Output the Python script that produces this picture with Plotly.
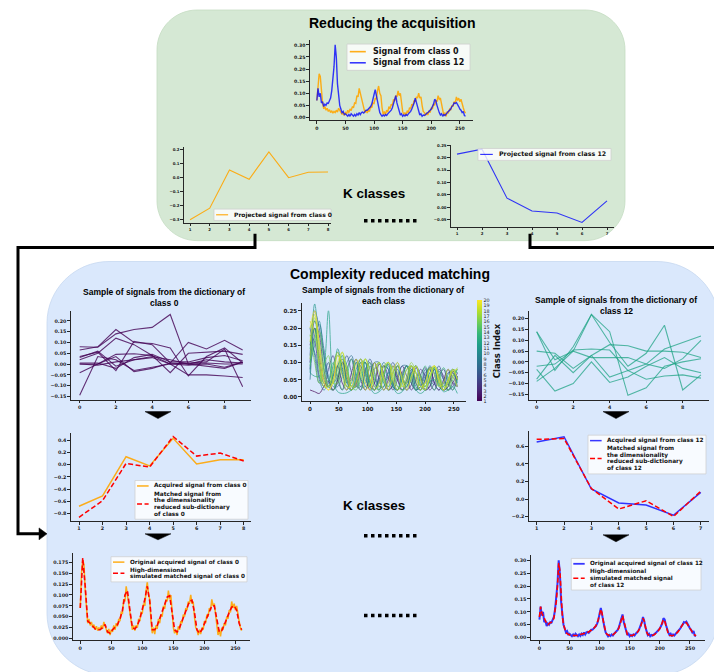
import plotly.graph_objects as go
from plotly.colors import sample_colorscale

W, H = 722, 672
def X(p): return p / W
def Y(p): return 1 - p / H

# ------------------------------------------------------------------ data
t_fine = list(range(0, 261, 2))
t_coarse = list(range(0, 261, 4))
t_dict_all = list(range(0, 257, 8))
idx_proj0 = [1, 2, 3, 4, 5, 6, 7, 8]
idx_proj12 = [1, 2, 3, 4, 5, 6, 7]
idx_dict = list(range(10))
class_index = list(range(1, 21))

signal_class0 = [
    0.07, 0.15, 0.18, 0.17, 0.11, 0.06, 0.035, 0.045, 0.03, 0.038,
    0.025, 0.032, 0.02, 0.028, 0.018, 0.025, 0.02, 0.03, 0.022, 0.038,
    0.03, 0.02, 0.012, 0.022, 0.008, 0.02, 0.015, 0.03, 0.02, 0.035,
    0.028, 0.045, 0.04, 0.06, 0.058, 0.09, 0.085, 0.12, 0.1, 0.085,
    0.06, 0.04, 0.02, 0.03, 0.018, 0.03, 0.025, 0.045, 0.04, 0.06,
    0.058, 0.08, 0.075, 0.11, 0.13, 0.1, 0.09, 0.04, 0.012, 0.025,
    0.01, 0.03, 0.022, 0.045, 0.035, 0.055, 0.05, 0.075, 0.068, 0.09,
    0.085, 0.11, 0.09, 0.1, 0.05, 0.025, 0.012, 0.02, 0.008, 0.028,
    0.02, 0.04, 0.035, 0.055, 0.05, 0.07, 0.065, 0.085, 0.08, 0.1,
    0.08, 0.085, 0.05, 0.025, 0.02, 0.008, 0.02, 0.01, 0.025, 0.02,
    0.04, 0.035, 0.055, 0.05, 0.07, 0.065, 0.09, 0.075, 0.08, 0.05,
    0.035, 0.008, 0.02, 0.005, 0.025, 0.02, 0.035, 0.03, 0.05, 0.045,
    0.065, 0.06, 0.085, 0.07, 0.08, 0.065, 0.075, 0.05, 0.04, 0.025,
    0.018]

matched_hd_class0 = [
    0.07, 0.185, 0.12, 0.04, 0.035, 0.028, 0.022, 0.02, 0.02, 0.025,
    0.032, 0.015, 0.012, 0.02, 0.025, 0.032, 0.045, 0.065, 0.1, 0.11,
    0.065, 0.025, 0.022, 0.03, 0.045, 0.065, 0.09, 0.12, 0.085, 0.02,
    0.02, 0.03, 0.045, 0.06, 0.078, 0.095, 0.098, 0.06, 0.02, 0.015,
    0.025, 0.04, 0.055, 0.07, 0.085, 0.088, 0.06, 0.02, 0.012, 0.02,
    0.033, 0.048, 0.062, 0.075, 0.075, 0.04, 0.015, 0.018, 0.03, 0.045,
    0.06, 0.072, 0.075, 0.065, 0.035, 0.02]

signal_class12 = [
    0.07, 0.12, 0.085, 0.1, 0.06, 0.065, 0.045, 0.055, 0.05, 0.06,
    0.058, 0.07, 0.08, 0.11, 0.15, 0.21, 0.3, 0.25, 0.14, 0.08,
    0.05, 0.035, 0.02, 0.025, 0.012, 0.015, 0.01, 0.005, 0.012, 0.005,
    0.015, 0.008, 0.005, 0.012, 0.006, 0.015, 0.01, 0.02, 0.012, 0.02,
    0.022, 0.018, 0.025, 0.03, 0.03, 0.035, 0.04, 0.045, 0.055, 0.07,
    0.095, 0.115, 0.09, 0.06, 0.04, 0.02, 0.012, 0.005, 0.01, 0.006,
    0.012, 0.008, 0.015, 0.02, 0.025, 0.03, 0.04, 0.055, 0.07, 0.09,
    0.06, 0.04, 0.025, 0.01, 0.015, 0.005, 0.01, 0.006, 0.012, 0.008,
    0.015, 0.02, 0.025, 0.035, 0.045, 0.06, 0.08, 0.065, 0.04, 0.025,
    0.01, 0.015, 0.005, 0.01, 0.008, 0.012, 0.015, 0.02, 0.025, 0.03,
    0.035, 0.045, 0.055, 0.075, 0.07, 0.05, 0.03, 0.02, 0.01, 0.015,
    0.005, 0.012, 0.008, 0.015, 0.02, 0.025, 0.03, 0.035, 0.045, 0.05,
    0.06, 0.058, 0.062, 0.05, 0.045, 0.035, 0.03, 0.02, 0.025, 0.008,
    0.005]

matched_hd_class12 = [
    0.08, 0.12, 0.095, 0.085, 0.07, 0.06, 0.055, 0.05, 0.055, 0.058,
    0.06, 0.065, 0.075, 0.1, 0.14, 0.2, 0.29, 0.26, 0.15, 0.085,
    0.05, 0.03, 0.02, 0.015, 0.012, 0.01, 0.008, 0.008, 0.007, 0.007,
    0.008, 0.008, 0.009, 0.01, 0.01, 0.012, 0.013, 0.015, 0.016, 0.018,
    0.02, 0.022, 0.025, 0.028, 0.031, 0.035, 0.04, 0.047, 0.056, 0.07,
    0.09, 0.11, 0.095, 0.065, 0.04, 0.022, 0.013, 0.009, 0.008, 0.008,
    0.009, 0.011, 0.014, 0.018, 0.023, 0.029, 0.037, 0.05, 0.068, 0.085,
    0.065, 0.04, 0.022, 0.012, 0.008, 0.007, 0.007, 0.008, 0.01, 0.012,
    0.015, 0.019, 0.024, 0.031, 0.042, 0.058, 0.075, 0.065, 0.042, 0.022,
    0.012, 0.008, 0.007, 0.007, 0.008, 0.01, 0.013, 0.017, 0.022, 0.028,
    0.035, 0.045, 0.058, 0.07, 0.065, 0.045, 0.027, 0.015, 0.009, 0.007,
    0.007, 0.008, 0.01, 0.013, 0.017, 0.022, 0.028, 0.035, 0.043, 0.052,
    0.058, 0.06, 0.058, 0.05, 0.042, 0.034, 0.027, 0.02, 0.014, 0.01,
    0.007]

projected_class0 = [-0.30, -0.218, 0.052, -0.013, 0.181, -0.002, 0.036, 0.038]
projected_class12 = [0.214, 0.234, 0.037, -0.015, -0.023, -0.061, 0.026]

acquired_red_class0 = [-0.68, -0.51, 0.13, -0.02, 0.43, 0.01, 0.08, 0.08]
matched_red_class0 = [-0.86, -0.59, 0.02, -0.04, 0.46, 0.14, 0.19, 0.06]
acquired_red_class12 = [0.65, 0.71, 0.114, -0.045, -0.068, -0.185, 0.076]
matched_red_class12 = [0.68, 0.69, 0.12, -0.114, -0.02, -0.2, 0.09]

dict_class0 = [
    [-0.145, 0.035, 0.02, -0.03, -0.015, 0.0, 0.005, 0.01, 0.07, -0.105],
    [0.08, 0.078, 0.14, 0.16, 0.17, 0.23, 0.0, -0.01, -0.02, 0.01],
    [0.065, 0.08, 0.16, 0.10, 0.095, 0.075, -0.055, 0.035, 0.075, 0.005],
    [0.035, 0.055, -0.03, 0.105, 0.09, 0.005, 0.10, 0.07, 0.11, 0.065],
    [0.02, 0.05, 0.12, 0.09, 0.04, -0.04, 0.05, 0.055, 0.06, 0.045],
    [-0.04, 0.0, 0.045, 0.048, 0.04, 0.0, -0.05, -0.05, -0.055, -0.062],
    [0.0, 0.0, 0.035, -0.035, -0.02, 0.005, 0.0, 0.005, 0.0, 0.0],
    [0.005, 0.005, -0.02, 0.03, 0.045, 0.01, 0.01, 0.03, 0.04, 0.015],
    [0.0, -0.005, 0.01, 0.02, 0.03, 0.0, -0.005, 0.0, -0.015, 0.01],
    [0.03, 0.06, -0.01, 0.02, 0.035, 0.02, 0.0, 0.02, 0.01, 0.005],
]

dict_class12 = [
    [0.14, 0.01, 0.05, 0.22, 0.14, -0.155, -0.12, -0.02, 0.0, 0.015],
    [0.14, -0.04, 0.07, 0.22, 0.09, -0.02, 0.04, 0.17, -0.13, -0.06],
    [0.05, 0.04, -0.03, 0.03, 0.08, 0.075, 0.05, 0.05, 0.045, 0.02],
    [-0.02, -0.01, 0.055, 0.06, 0.055, -0.04, -0.01, 0.06, 0.09, 0.12],
    [-0.035, -0.135, -0.10, 0.0, -0.095, -0.07, -0.02, 0.02, -0.03, -0.05],
    [-0.08, 0.03, -0.05, 0.03, -0.07, -0.04, -0.08, -0.065, -0.06, -0.075],
    [-0.09, -0.03, 0.05, 0.02, 0.02, 0.02, -0.01, -0.03, 0.015, 0.10],
]

dict_all = [
    [0.02, 0.015, 0.01, 0.03, 0.045, 0.02, 0.05, 0.1, 0.06, 0.02, 0.04, 0.1, 0.07, 0.02, 0.04, 0.095, 0.07, 0.02, 0.035, 0.09, 0.065, 0.02, 0.035, 0.085, 0.06, 0.02, 0.03, 0.08, 0.06, 0.02, 0.03, 0.075, 0.05],
    [0.15, 0.2, 0.12, 0.05, 0.03, 0.06, 0.09, 0.04, 0.02, 0.07, 0.11, 0.05, 0.02, 0.06, 0.1, 0.05, 0.02, 0.05, 0.09, 0.05, 0.02, 0.05, 0.09, 0.04, 0.02, 0.05, 0.085, 0.04, 0.02, 0.05, 0.08, 0.04, 0.03],
    [0.1, 0.22, 0.18, 0.08, 0.03, 0.02, 0.05, 0.1, 0.08, 0.03, 0.03, 0.08, 0.1, 0.05, 0.02, 0.06, 0.09, 0.06, 0.02, 0.05, 0.09, 0.06, 0.02, 0.05, 0.08, 0.06, 0.02, 0.04, 0.08, 0.06, 0.02, 0.04, 0.07],
    [0.18, 0.16, 0.06, 0.03, 0.08, 0.12, 0.05, 0.02, 0.08, 0.11, 0.04, 0.02, 0.08, 0.1, 0.04, 0.02, 0.07, 0.095, 0.04, 0.02, 0.07, 0.09, 0.04, 0.02, 0.065, 0.085, 0.04, 0.02, 0.06, 0.08, 0.04, 0.02, 0.06],
    [0.08, 0.2, 0.1, 0.04, 0.03, 0.05, 0.09, 0.11, 0.05, 0.02, 0.04, 0.09, 0.1, 0.04, 0.02, 0.05, 0.09, 0.08, 0.03, 0.02, 0.06, 0.09, 0.06, 0.02, 0.03, 0.07, 0.08, 0.04, 0.02, 0.04, 0.07, 0.07, 0.03],
    [0.12, 0.25, 0.2, 0.12, 0.05, 0.02, 0.04, 0.08, 0.12, 0.07, 0.03, 0.03, 0.07, 0.11, 0.07, 0.03, 0.03, 0.07, 0.1, 0.06, 0.02, 0.03, 0.07, 0.09, 0.06, 0.02, 0.03, 0.06, 0.09, 0.05, 0.02, 0.03, 0.06],
    [0.2, 0.12, 0.04, 0.06, 0.1, 0.04, 0.06, 0.1, 0.04, 0.05, 0.1, 0.05, 0.04, 0.09, 0.05, 0.04, 0.09, 0.05, 0.04, 0.08, 0.05, 0.04, 0.08, 0.05, 0.035, 0.08, 0.05, 0.035, 0.075, 0.05, 0.035, 0.07, 0.05],
    [0.05, 0.18, 0.21, 0.14, 0.06, 0.03, 0.03, 0.06, 0.1, 0.12, 0.06, 0.03, 0.03, 0.06, 0.1, 0.1, 0.05, 0.02, 0.03, 0.06, 0.09, 0.09, 0.04, 0.02, 0.03, 0.06, 0.085, 0.08, 0.04, 0.02, 0.03, 0.06, 0.08],
    [0.16, 0.13, 0.05, 0.02, 0.04, 0.09, 0.13, 0.07, 0.03, 0.02, 0.06, 0.11, 0.08, 0.03, 0.02, 0.06, 0.1, 0.08, 0.03, 0.02, 0.05, 0.09, 0.08, 0.03, 0.02, 0.05, 0.09, 0.07, 0.03, 0.02, 0.05, 0.08, 0.07],
    [0.1, 0.15, 0.22, 0.12, 0.05, 0.04, 0.09, 0.12, 0.05, 0.03, 0.08, 0.11, 0.05, 0.03, 0.08, 0.1, 0.05, 0.03, 0.07, 0.1, 0.05, 0.03, 0.07, 0.09, 0.04, 0.03, 0.07, 0.085, 0.04, 0.03, 0.065, 0.08, 0.04],
    [0.07, 0.27, 0.15, 0.06, 0.03, 0.06, 0.14, 0.08, 0.03, 0.04, 0.1, 0.09, 0.03, 0.03, 0.08, 0.1, 0.04, 0.02, 0.07, 0.09, 0.04, 0.02, 0.06, 0.09, 0.05, 0.02, 0.05, 0.085, 0.05, 0.02, 0.05, 0.08, 0.05],
    [0.07, 0.06, 0.06, 0.09, 0.25, 0.05, 0.015, 0.01, 0.012, 0.02, 0.03, 0.045, 0.1, 0.03, 0.01, 0.015, 0.03, 0.07, 0.03, 0.01, 0.015, 0.04, 0.065, 0.02, 0.01, 0.02, 0.045, 0.05, 0.035, 0.015, 0.02, 0.03, 0.01],
    [0.14, 0.2, 0.08, 0.03, 0.03, 0.07, 0.12, 0.1, 0.04, 0.02, 0.05, 0.1, 0.1, 0.04, 0.02, 0.04, 0.09, 0.09, 0.04, 0.02, 0.04, 0.08, 0.09, 0.04, 0.02, 0.04, 0.08, 0.08, 0.04, 0.02, 0.04, 0.075, 0.07],
    [0.2, 0.22, 0.1, 0.04, 0.05, 0.1, 0.06, 0.02, 0.06, 0.11, 0.06, 0.02, 0.06, 0.1, 0.06, 0.02, 0.06, 0.1, 0.05, 0.02, 0.06, 0.09, 0.05, 0.02, 0.05, 0.09, 0.05, 0.02, 0.05, 0.085, 0.05, 0.02, 0.05],
    [0.09, 0.17, 0.19, 0.09, 0.03, 0.02, 0.06, 0.12, 0.09, 0.03, 0.02, 0.06, 0.11, 0.08, 0.03, 0.02, 0.06, 0.1, 0.08, 0.03, 0.02, 0.05, 0.09, 0.07, 0.03, 0.02, 0.05, 0.09, 0.07, 0.03, 0.02, 0.05, 0.08],
    [0.18, 0.1, 0.04, 0.09, 0.12, 0.04, 0.04, 0.11, 0.08, 0.03, 0.05, 0.1, 0.07, 0.03, 0.05, 0.1, 0.06, 0.03, 0.05, 0.09, 0.06, 0.03, 0.05, 0.09, 0.06, 0.03, 0.05, 0.085, 0.055, 0.03, 0.05, 0.08, 0.05],
    [0.11, 0.23, 0.16, 0.07, 0.03, 0.04, 0.08, 0.13, 0.08, 0.03, 0.03, 0.07, 0.11, 0.08, 0.03, 0.03, 0.07, 0.1, 0.07, 0.03, 0.03, 0.06, 0.1, 0.07, 0.03, 0.03, 0.06, 0.09, 0.06, 0.03, 0.03, 0.06, 0.085],
    [0.22, 0.19, 0.09, 0.03, 0.03, 0.08, 0.13, 0.06, 0.02, 0.05, 0.11, 0.07, 0.02, 0.04, 0.1, 0.07, 0.02, 0.04, 0.09, 0.07, 0.03, 0.04, 0.09, 0.07, 0.03, 0.04, 0.085, 0.065, 0.03, 0.04, 0.08, 0.06, 0.03],
    [0.16, 0.24, 0.12, 0.04, 0.02, 0.05, 0.1, 0.13, 0.06, 0.02, 0.04, 0.09, 0.11, 0.05, 0.02, 0.04, 0.09, 0.1, 0.05, 0.02, 0.04, 0.08, 0.09, 0.05, 0.02, 0.04, 0.08, 0.09, 0.04, 0.02, 0.04, 0.075, 0.08],
    [0.2, 0.25, 0.15, 0.05, 0.02, 0.04, 0.12, 0.1, 0.03, 0.03, 0.09, 0.11, 0.04, 0.02, 0.08, 0.1, 0.05, 0.02, 0.07, 0.1, 0.05, 0.02, 0.06, 0.09, 0.05, 0.02, 0.06, 0.09, 0.05, 0.02, 0.05, 0.08, 0.05],
]

# tick labels
ticks_time = [0, 50, 100, 150, 200, 250]
ticks_top_y = [0.0, 0.05, 0.10, 0.15, 0.20, 0.25, 0.30]
ticks_proj0_y = [-0.3, -0.2, -0.1, 0.0, 0.1, 0.2]
ticks_proj12_y = [-0.05, 0.0, 0.05, 0.10, 0.15, 0.20, 0.25]
ticks_dict_x = [0, 2, 4, 6, 8]
ticks_dict_y = [-0.15, -0.10, -0.05, 0.0, 0.05, 0.10, 0.15, 0.20]
ticks_all_y = [0.0, 0.05, 0.10, 0.15, 0.20, 0.25]
ticks_red0_y = [-0.8, -0.6, -0.4, -0.2, 0.0, 0.2, 0.4]
ticks_red12_y = [-0.2, 0.0, 0.2, 0.4, 0.6]
ticks_hd0_y = [0.0, 0.025, 0.05, 0.075, 0.1, 0.125, 0.15, 0.175]
ticks_hd12_y = [0.0, 0.05, 0.10, 0.15, 0.20, 0.25, 0.30]

# ------------------------------------------------------------------ styles
ORANGE = 'rgba(255,165,0,0.9)'
BLUE = 'rgba(0,0,255,0.78)'
RED = 'rgb(255,0,0)'
PURPLE = 'rgba(68,1,84,0.8)'
TEAL = 'rgba(32,164,134,0.75)'
RDASH = '5px,2.5px'
TICKFONT = 'DejaVu Sans'
TITLEFONT = 'Liberation Sans'

fig = go.Figure()

panels = {
    1: dict(xd=(302, 465), yd=(29, 110), xr=(-12, 273), yr=(-0.012, 0.321), xt=ticks_time, yt=ticks_top_y, yf='.2f', fs=4.6),
    2: dict(xd=(176, 323), yd=(137, 213), xr=(0.695, 8.15), yr=(-0.321, 0.214), xt=idx_proj0, yt=ticks_proj0_y, yf='.1f', fs=3.9),
    3: dict(xd=(443, 606), yd=(135, 217), xr=(0.76, 7.28), yr=(-0.078, 0.25), xt=idx_proj12, yt=ticks_proj12_y, yf='.2f', fs=3.9),
    4: dict(xd=(63, 243), yd=(302, 391), xr=(-0.48, 9.46), yr=(-0.165, 0.245), xt=ticks_dict_x, yt=ticks_dict_y, yf='.2f', fs=4.8),
    5: dict(xd=(294, 458), yd=(294, 392), xr=(-14, 271), yr=(-0.011, 0.272), xt=ticks_time, yt=ticks_all_y, yf='.2f', fs=5.6),
    6: dict(xd=(521, 701), yd=(302, 391), xr=(-0.42, 9.44), yr=(-0.175, 0.235), xt=ticks_dict_x, yt=ticks_dict_y, yf='.2f', fs=4.8),
    7: dict(xd=(63, 243), yd=(425, 513), xr=(0.66, 8.31), yr=(-0.92, 0.51), xt=idx_proj0, yt=ticks_red0_y, yf='.1f', fs=4.8),
    8: dict(xd=(521, 701), yd=(423, 513), xr=(0.72, 7.3), yr=(-0.25, 0.77), xt=idx_proj12, yt=ticks_red12_y, yf='.1f', fs=4.8),
    9: dict(xd=(65, 242), yd=(545, 633), xr=(-11.7, 273.5), yr=(-0.004, 0.197), xt=ticks_time, yt=ticks_hd0_y, yf='.3f', fs=4.8),
    10: dict(xd=(523, 697), yd=(547, 633), xr=(-14, 275), yr=(-0.0104, 0.322), xt=ticks_time, yt=ticks_hd12_y, yf='.2f', fs=4.8),
}

layout_axes = {}
for i, p in panels.items():
    sfx = '' if i == 1 else str(i)
    common = dict(showline=True, linecolor='#262626', linewidth=1.3, ticks='outside',
                  ticklen=2.5, tickwidth=0.8, tickcolor='#262626', showgrid=False,
                  zeroline=False, fixedrange=True,
                  tickfont=dict(family=TICKFONT, size=p['fs'], color='#1a1a1a', weight='bold'))
    layout_axes['xaxis' + sfx] = dict(domain=[X(p['xd'][0]), X(p['xd'][1])], range=list(p['xr']),
                                      anchor='y' + sfx, tickvals=p['xt'], **common)
    layout_axes['yaxis' + sfx] = dict(domain=[Y(p['yd'][1]), Y(p['yd'][0])], range=list(p['yr']),
                                      anchor='x' + sfx, tickvals=p['yt'], tickformat=p['yf'], **common)

def ax(i):
    s = '' if i == 1 else str(i)
    return dict(xaxis='x' + s, yaxis='y' + s)

def line(x, y, i, color, width, dash='solid', shape='linear', opacity=1.0):
    fig.add_trace(go.Scatter(x=x, y=y, mode='lines', showlegend=False, hoverinfo='skip',
                             line=dict(color=color, width=width, dash=dash, shape=shape),
                             opacity=opacity, **ax(i)))

# panel 1: signals
line(t_fine, signal_class0, 1, ORANGE, 1.4)
line(t_fine, signal_class12, 1, BLUE, 1.4)
# panel 2/3: projected
line(idx_proj0, projected_class0, 2, ORANGE, 1.1)
line(idx_proj12, projected_class12, 3, BLUE, 1.1)
# panel 4: dictionary class 0
for s in dict_class0:
    line(idx_dict, s, 4, PURPLE, 1.1)
# panel 5: dictionary all classes
cols = sample_colorscale('Viridis', [(c - 1) / 19 for c in class_index])
for s, c in zip(dict_all, cols):
    line(t_dict_all[:len(s)], s, 5, c, 1.0, shape='spline', opacity=0.7)
fig.add_trace(go.Scatter(
    x=[None], y=[None], mode='markers', showlegend=False, hoverinfo='skip', **ax(5),
    marker=dict(color=[1], cmin=1, cmax=20, colorscale='Viridis', showscale=True,
                colorbar=dict(x=X(469), xanchor='left', xpad=0, y=Y(342), yanchor='middle', ypad=0,
                              len=101, lenmode='pixels', thickness=5, thicknessmode='pixels',
                              outlinewidth=0, tickvals=class_index, ticks='',
                              tickfont=dict(family=TICKFONT, size=4.8, color='#222'),
                              title=dict(text='Class Index', side='right',
                                         font=dict(family=TICKFONT, size=8.5, color='#111', weight='bold'))))))
# panel 6: dictionary class 12
for s in dict_class12:
    line(idx_dict, s, 6, TEAL, 1.1)
# panel 7/8: reduced matching
line(idx_proj0, acquired_red_class0, 7, ORANGE, 1.5)
line(idx_proj0, matched_red_class0, 7, RED, 1.5, dash=RDASH)
line(idx_proj12, acquired_red_class12, 8, BLUE, 1.5)
line(idx_proj12, matched_red_class12, 8, RED, 1.5, dash=RDASH)
# panel 9/10: high-dimensional
line(t_fine, signal_class0, 9, ORANGE, 1.5)
line(t_coarse, matched_hd_class0, 9, RED, 1.6, dash=RDASH)
line(t_fine, signal_class12, 10, BLUE, 2.0)
line(t_fine, matched_hd_class12, 10, RED, 1.6, dash=RDASH)

# ------------------------------------------------------------------ decorations
shapes = []
annotations = []

def P(a, b):
    return f'{X(a):.5f},{Y(b):.5f}'

def rrect(x0, y0, x1, y1, r):
    c = 0.5523 * r
    return (f'M {P(x0 + r, y0)} L {P(x1 - r, y0)} C {P(x1 - r + c, y0)} {P(x1, y0 + r - c)} {P(x1, y0 + r)} '
            f'L {P(x1, y1 - r)} C {P(x1, y1 - r + c)} {P(x1 - r + c, y1)} {P(x1 - r, y1)} '
            f'L {P(x0 + r, y1)} C {P(x0 + r - c, y1)} {P(x0, y1 - r + c)} {P(x0, y1 - r)} '
            f'L {P(x0, y0 + r)} C {P(x0, y0 + r - c)} {P(x0 + r - c, y0)} {P(x0 + r, y0)} Z')

def poly(points, close=False):
    return 'M ' + ' L '.join(P(a, b) for a, b in points) + (' Z' if close else '')

shapes.append(dict(type='path', xref='paper', yref='paper', path=rrect(149, -1, 617, 231, 40),
                   fillcolor='#d5e8d4', line=dict(color='#c4dcc2', width=0.8), layer='below'))
shapes.append(dict(type='path', xref='paper', yref='paper', path=rrect(39, 252, 711, 668, 62),
                   fillcolor='#dae8fc', line=dict(color='#c6d8f0', width=0.8), layer='below'))

# connectors
ARROW_Y = 526
shapes.append(dict(type='path', xref='paper', yref='paper',
                   path=poly([(247, 224), (247, 238), (10, 238), (10, ARROW_Y), (31, ARROW_Y)]),
                   line=dict(color='black', width=3), layer='above'))
shapes.append(dict(type='path', xref='paper', yref='paper',
                   path=poly([(31, ARROW_Y - 6), (39, ARROW_Y), (31, ARROW_Y + 6)], close=True),
                   fillcolor='black', line=dict(color='black', width=0.5), layer='above'))
shapes.append(dict(type='path', xref='paper', yref='paper',
                   path=poly([(522, 224), (522, 238), (720.5, 238), (720.5, ARROW_Y)]),
                   line=dict(color='black', width=3), layer='above'))
shapes.append(dict(type='path', xref='paper', yref='paper',
                   path=poly([(722, ARROW_Y - 6), (712, ARROW_Y), (722, ARROW_Y + 6)], close=True),
                   fillcolor='black', line=dict(color='black', width=0.5), layer='above'))

# down triangles
for cx, ty, by in [(150, 403, 410), (150, 526, 532), (608, 403, 410), (608, 527, 534)]:
    shapes.append(dict(type='path', xref='paper', yref='paper',
                       path=poly([(cx - 13, ty), (cx + 13, ty), (cx, by)], close=True),
                       fillcolor='black', line=dict(color='black', width=0.5), layer='above'))

# dotted separators
for yy in [211, 528, 608]:
    shapes.append(dict(type='line', xref='paper', yref='paper', x0=X(356), x1=X(412), y0=Y(yy), y1=Y(yy),
                       line=dict(color='black', width=3.5, dash='3.5px,3.5px'), layer='above'))

def text(t, x, y, size, family=TITLEFONT, anchor='center', color='#000'):
    annotations.append(dict(text=t, x=X(x), y=Y(y), xref='paper', yref='paper', xanchor=anchor,
                            yanchor='middle', showarrow=False, borderpad=0,
                            font=dict(family=family, size=size, color=color, weight='bold')))

text('Reducing the acquisition', 384, 12.5, 14)
text('K classes', 366, 184, 13.5)
text('Complexity reduced matching', 382, 264.5, 14)
text('K classes', 366, 497, 13.5)
text('Sample of signals from the dictionary of', 156, 283, 8.5)
text('class 0', 156, 294, 8.5)
text('Sample of signals from the dictionary of', 375, 281, 8.5)
text('each class', 375, 291.5, 8.5)
text('Sample of signals from the dictionary of', 608, 291, 8.5)
text('class 12', 608, 301.7, 8.5)

def add_legend(x0, y0, x1, f, entries):
    lh, gap, pad = 1.14 * f, 0.26 * f, 0.38 * f
    yy = y0 + pad
    handles, texts = [], []
    for lines, color, dash, width in entries:
        n = len(lines)
        yc = yy + n * lh / 2
        handles.append(dict(type='line', xref='paper', yref='paper', x0=X(x0 + 0.35 * f), x1=X(x0 + 2.35 * f),
                            y0=Y(yc), y1=Y(yc), line=dict(color=color, width=width, dash=dash), layer='above'))
        for j, t in enumerate(lines):
            texts.append(dict(text=t, x=X(x0 + 3.1 * f), y=Y(yy + (j + 0.5) * lh), xref='paper', yref='paper',
                              xanchor='left', yanchor='middle', showarrow=False, borderpad=0,
                              font=dict(family=TICKFONT, size=f, color='#111', weight='bold')))
        yy += n * lh + gap
    y1 = yy - gap + pad
    shapes.append(dict(type='rect', xref='paper', yref='paper', x0=X(x0), x1=X(x1), y0=Y(y0), y1=Y(y1),
                       fillcolor='rgba(255,255,255,0.8)', line=dict(color='rgba(205,205,205,0.9)', width=0.8),
                       layer='above'))
    shapes.extend(handles)
    annotations.extend(texts)

add_legend(339, 33.3, 462, 8, [
    (['Signal from class 0'], ORANGE, 'solid', 1.6),
    (['Signal from class 12'], BLUE, 'solid', 1.6)])
add_legend(206, 199.3, 323, 6, [
    (['Projected signal from class 0'], ORANGE, 'solid', 1.2)])
add_legend(470, 138.3, 603, 6.3, [
    (['Projected signal from class 12'], BLUE, 'solid', 1.2)])
add_legend(127, 472.3, 240, 5.8, [
    (['Acquired signal from class 0'], ORANGE, 'solid', 1.5),
    (['Matched signal from', 'the dimensionality', 'reduced sub-dictionary', 'of class 0'], RED, RDASH, 1.5)])
add_legend(580, 426.7, 698, 5.8, [
    (['Acquired signal from class 12'], BLUE, 'solid', 1.5),
    (['Matched signal from', 'the dimensionality', 'reduced sub-dictionary', 'of class 12'], RED, RDASH, 1.5)])
add_legend(103, 549, 239, 5.7, [
    (['Original acquired signal of class 0'], ORANGE, 'solid', 1.5),
    (['High-dimensional', 'simulated matched signal of class 0'], RED, RDASH, 1.5)])
add_legend(563.3, 550.7, 693, 5.7, [
    (['Original acquired signal of class 12'], BLUE, 'solid', 1.8),
    (['High-dimensional', 'simulated matched signal', 'of class 12'], RED, RDASH, 1.5)])

fig.update_layout(
    width=W, height=H, autosize=False,
    margin=dict(l=0, r=0, t=0, b=0, pad=0),
    paper_bgcolor='white', plot_bgcolor='rgba(0,0,0,0)',
    showlegend=False, hovermode=False,
    shapes=shapes, annotations=annotations,
    **layout_axes)

fig.write_html('out.html', config={'displayModeBar': False})
